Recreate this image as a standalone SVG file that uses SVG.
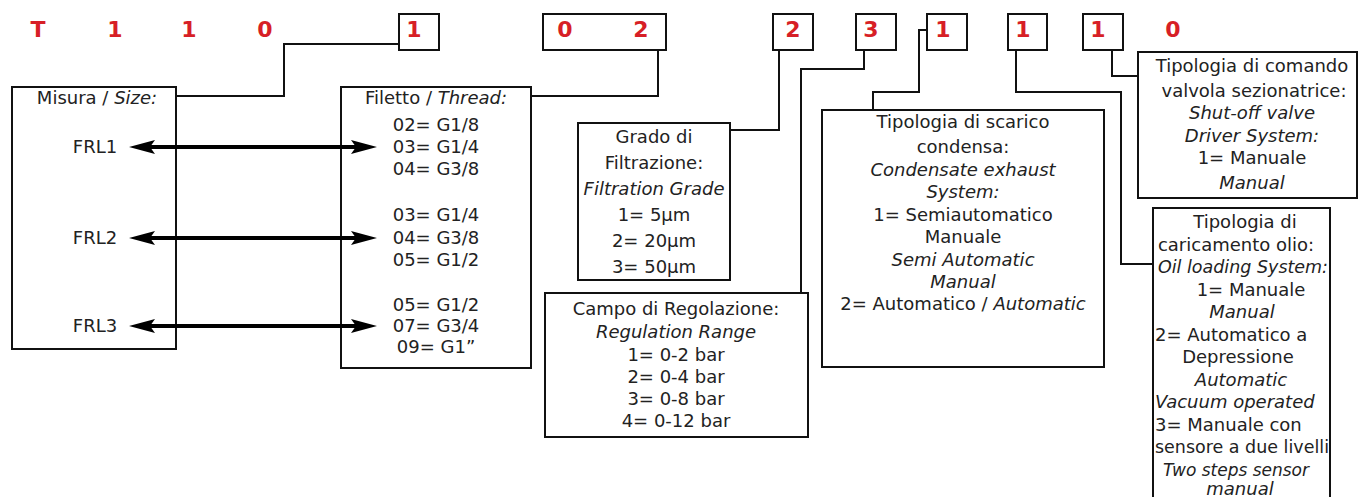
<svg xmlns="http://www.w3.org/2000/svg" width="1360" height="497" viewBox="0 0 1360 497">
<defs>
<style>
.box{fill:none;stroke:#111;stroke-width:2}
.code{font-family:"DejaVu Sans",sans-serif;font-weight:bold;font-size:22px;fill:#d71f26;text-anchor:middle}
.t{font-family:"DejaVu Sans",sans-serif;font-size:18px;fill:#222;text-anchor:middle}
.i{font-style:italic}
.s{text-anchor:start}
.wire{fill:none;stroke:#111;stroke-width:2}
.arrow{fill:none;stroke:#000;stroke-width:4;marker-start:url(#ah);marker-end:url(#ah)}
</style>
<marker id="ah" viewBox="0 0 26 14" refX="5" refY="7" markerWidth="26" markerHeight="14" markerUnits="userSpaceOnUse" orient="auto-start-reverse">
<path d="M0,0 L26,7 L0,14 L5,7 Z" fill="#000"/>
</marker>
</defs>
<rect width="1360" height="497" fill="#fff"/>

<g id="code-T"><text class="code" x="38" y="37">T</text></g>
<g id="code-1a"><text class="code" x="115" y="37">1</text></g>
<g id="code-1b"><text class="code" x="189" y="37">1</text></g>
<g id="code-0a"><text class="code" x="265" y="37">0</text></g>
<g id="code-size"><rect class="box" x="399" y="14" width="40" height="36"/><text class="code" x="414" y="37">1</text></g>
<g id="code-thread"><rect class="box" x="543" y="14" width="123" height="36"/><text class="code" x="565" y="37">0</text><text class="code" x="641" y="37">2</text></g>
<g id="code-filter"><rect class="box" x="773" y="14" width="40" height="36"/><text class="code" x="793" y="37">2</text></g>
<g id="code-range"><rect class="box" x="856" y="14" width="40" height="36"/><text class="code" x="871" y="37">3</text></g>
<g id="code-exhaust"><rect class="box" x="927" y="14" width="40" height="36"/><text class="code" x="943" y="37">1</text></g>
<g id="code-oil"><rect class="box" x="1008" y="14" width="39" height="36"/><text class="code" x="1023" y="37">1</text></g>
<g id="code-valve"><rect class="box" x="1083" y="14" width="40" height="36"/><text class="code" x="1098" y="37">1</text></g>
<g id="code-0b"><text class="code" x="1173" y="37">0</text></g>

<g id="node-size">
<rect class="box" x="12" y="87" width="164" height="262"/>
<text class="t" x="97" y="104">Misura / <tspan class="i">Size:</tspan></text>
<text class="t" x="95" y="153">FRL1</text>
<text class="t" x="95" y="244">FRL2</text>
<text class="t" x="95" y="332">FRL3</text>
</g>

<g id="node-thread">
<rect class="box" x="341" y="87" width="190" height="281"/>
<text class="t" x="436" y="104">Filetto / <tspan class="i">Thread:</tspan></text>
<text class="t" x="436" y="131">02= G1/8</text>
<text class="t" x="436" y="153">03= G1/4</text>
<text class="t" x="436" y="175">04= G3/8</text>
<text class="t" x="436" y="221">03= G1/4</text>
<text class="t" x="436" y="244">04= G3/8</text>
<text class="t" x="436" y="266">05= G1/2</text>
<text class="t" x="436" y="311">05= G1/2</text>
<text class="t" x="436" y="332">07= G3/4</text>
<text class="t" x="436" y="353">09= G1”</text>
</g>

<g id="node-filter">
<rect class="box" x="578" y="123" width="152" height="157"/>
<text class="t" x="654" y="143">Grado di</text>
<text class="t" x="654" y="169">Filtrazione:</text>
<text class="t i" x="654" y="195">Filtration Grade</text>
<text class="t" x="654" y="221">1= 5µm</text>
<text class="t" x="654" y="247">2= 20µm</text>
<text class="t" x="654" y="273">3= 50µm</text>
</g>

<g id="node-range">
<rect class="box" x="545" y="293" width="263" height="144"/>
<text class="t" x="676" y="315">Campo di Regolazione:</text>
<text class="t i" x="676" y="338">Regulation Range</text>
<text class="t" x="676" y="361">1= 0-2 bar</text>
<text class="t" x="676" y="383">2= 0-4 bar</text>
<text class="t" x="676" y="405">3= 0-8 bar</text>
<text class="t" x="676" y="427">4= 0-12 bar</text>
</g>

<g id="node-exhaust">
<rect class="box" x="822" y="110" width="282" height="257"/>
<text class="t" x="963" y="128">Tipologia di scarico</text>
<text class="t" x="963" y="153">condensa:</text>
<text class="t i" x="963" y="176">Condensate exhaust</text>
<text class="t i" x="963" y="198">System:</text>
<text class="t" x="963" y="221">1= Semiautomatico</text>
<text class="t" x="963" y="243">Manuale</text>
<text class="t i" x="963" y="266">Semi Automatic</text>
<text class="t i" x="963" y="288">Manual</text>
<text class="t" x="963" y="310">2= Automatico / <tspan class="i">Automatic</tspan></text>
</g>

<g id="node-valve">
<rect class="box" x="1138" y="52" width="219" height="146"/>
<text class="t" x="1252" y="72">Tipologia di comando</text>
<text class="t" x="1254" y="97">valvola sezionatrice:</text>
<text class="t i" x="1252" y="119">Shut-off valve</text>
<text class="t i" x="1252" y="142">Driver System:</text>
<text class="t" x="1252" y="164">1= Manuale</text>
<text class="t i" x="1252" y="189">Manual</text>
</g>

<g id="node-oil">
<rect class="box" x="1153" y="208" width="177" height="300"/>
<text class="t" x="1245" y="228">Tipologia di</text>
<text class="t" x="1236" y="251">caricamento olio:</text>
<text class="t i" x="1243" y="273" textLength="170" lengthAdjust="spacingAndGlyphs">Oil loading System:</text>
<text class="t" x="1251" y="296">1= Manuale</text>
<text class="t i" x="1242" y="318">Manual</text>
<text class="t s" x="1155" y="341">2= Automatico a</text>
<text class="t" x="1238" y="363">Depressione</text>
<text class="t i" x="1241" y="386">Automatic</text>
<text class="t i s" x="1155" y="408">Vacuum operated</text>
<text class="t s" x="1155" y="431">3= Manuale con</text>
<text class="t s" x="1155" y="453" textLength="174" lengthAdjust="spacingAndGlyphs">sensore a due livelli</text>
<text class="t i" x="1236" y="476" textLength="146" lengthAdjust="spacingAndGlyphs">Two steps sensor</text>
<text class="t i" x="1240" y="495">manual</text>
</g>

<g id="connectors">
<path class="wire" d="M399,44 H284 V96 H176"/>
<path class="wire" d="M658,50 V96 H531"/>
<path class="wire" d="M779,50 V130 H730"/>
<path class="wire" d="M864,50 V69 H801 V293"/>
<path class="wire" d="M927,30 H919 V92 H873 V110"/>
<path class="wire" d="M1016,50 V92 H1121 V264 H1153"/>
<path class="wire" d="M1112,50 V76 H1138"/>
<line class="arrow" x1="150" y1="147" x2="356" y2="147"/>
<line class="arrow" x1="150" y1="238" x2="356" y2="238"/>
<line class="arrow" x1="150" y1="326" x2="356" y2="326"/>
</g>
</svg>
